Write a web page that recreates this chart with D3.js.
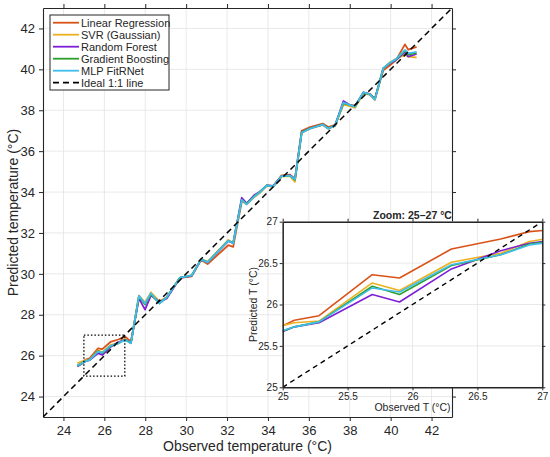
<!DOCTYPE html>
<html>
<head>
<meta charset="utf-8">
<script src="https://cdn.jsdelivr.net/npm/d3@7"></script>
<style>
  body { margin: 0; background: #fff; }
  svg text { font-family: "Liberation Sans", Arial, sans-serif; fill: #262626; }
</style>
</head>
<body>
<div class="vis-pred"></div>
<script>
// observed temperature (x) and each model's prediction (y)
const observed = [24.68, 25.09, 25.28, 25.69, 25.9, 26.3, 26.68, 26.9, 27.05, 27.3, 27.69, 27.99,
  28.28, 28.69, 29.05, 29.7, 30.27, 30.73, 31.05, 32.06, 32.3, 32.72, 32.96, 33.33, 33.6, 33.94,
  34.26, 34.67, 35.08, 35.32, 35.65, 36.06, 36.68, 36.95, 37.28, 37.69, 38.01, 38.26, 38.67,
  38.99, 39.23, 39.64, 39.97, 40.26, 40.7, 40.86, 41.27];
const linReg = [25.5, 25.81, 25.865, 26.36, 26.32, 26.67, 26.79, 26.88, 26.9, 26.68, 28.85, 28.55,
  29.05, 28.62, 28.85, 29.8, 29.88, 30.68, 30.48, 31.4, 31.32, 33.55, 33.42, 33.78, 33.98, 34.32,
  34.3, 34.82, 34.85, 34.65, 37.0, 37.18, 37.35, 37.18, 37.28, 38.3, 38.25, 38.22, 38.85,
  38.8, 38.55, 39.95, 40.2, 40.45, 41.22, 40.96, 41.1];
const svr = [25.63, 25.78, 25.8, 26.26, 26.17, 26.51, 26.62, 26.76, 26.8, 26.62, 28.95, 28.6,
  29.1, 28.65, 28.85, 29.82, 29.92, 30.72, 30.58, 31.66, 31.52, 33.6, 33.4, 33.75, 33.95, 34.3,
  34.25, 34.75, 34.78, 34.5, 36.9, 37.1, 37.28, 37.1, 37.22, 38.28, 38.2, 38.12, 38.82,
  38.75, 38.5, 40.05, 40.35, 40.52, 40.7, 40.62, 40.58];
const randForest = [25.47, 25.73, 25.78, 26.12, 26.03, 26.43, 26.65, 26.74, 26.77, 26.63, 28.8, 28.25,
  28.95, 28.62, 28.8, 29.8, 29.9, 30.7, 30.56, 31.6, 31.5, 33.72, 33.45, 33.85, 34.02, 34.32,
  34.3, 34.78, 34.82, 34.62, 36.92, 37.12, 37.3, 37.12, 37.25, 38.45, 38.25, 38.2, 38.88,
  38.78, 38.55, 40.05, 40.3, 40.45, 40.85, 40.62, 40.75];
const gradBoost = [25.5, 25.73, 25.79, 26.22, 26.12, 26.47, 26.6, 26.73, 26.76, 26.62, 28.9, 28.5,
  29.0, 28.55, 28.85, 29.82, 29.92, 30.72, 30.58, 31.62, 31.52, 33.62, 33.42, 33.8, 34.0, 34.32,
  34.28, 34.78, 34.8, 34.6, 36.92, 37.12, 37.3, 37.12, 37.25, 38.35, 38.25, 38.18, 38.85,
  38.78, 38.55, 40.05, 40.32, 40.48, 40.9, 40.72, 40.8];
const mlp = [25.52, 25.73, 25.79, 26.2, 26.15, 26.48, 26.6, 26.72, 26.75, 26.6, 28.92, 28.55,
  29.05, 28.55, 28.85, 29.82, 29.92, 30.7, 30.56, 31.62, 31.5, 33.62, 33.4, 33.78, 33.98, 34.32,
  34.28, 34.78, 34.8, 34.62, 36.9, 37.1, 37.3, 37.1, 37.25, 38.38, 38.25, 38.18, 38.88,
  38.78, 38.52, 40.05, 40.32, 40.5, 40.95, 40.78, 40.85];

const seriesNames = ["Linear Regression", "SVR (Gaussian)", "Random Forest", "Gradient Boosting", "MLP FitRNet"];
const seriesValues = [linReg, svr, randForest, gradBoost, mlp];
const seriesColors = ["#d95319", "#edb120", "#7e1fd8", "#2ca02c", "#3fbdec"];

const mainTicks = [24, 26, 28, 30, 32, 34, 36, 38, 40, 42];
const zoomTicks = [25, 25.5, 26, 26.5, 27];
const zoomRange = [25, 27];

const series = seriesNames.map((name, i) => ({
  name: name,
  color: seriesColors[i],
  points: observed.map((o, j) => ({ x: o, y: seriesValues[i][j] })),
}));

const svg = d3.select(".vis-pred").append("svg")
  .attr("width", 550).attr("height", 457);

// ---------- main axes ----------
const margin = { top: 8, left: 43 };
const width = 409, height = 409;
const g = svg.append("g").attr("transform", "translate(" + margin.left + "," + margin.top + ")");

const x = d3.scaleLinear().domain([23, 43]).range([0, width]);
const y = d3.scaleLinear().domain([23, 43]).range([height, 0]);

// grid
g.append("g").selectAll("line").data(mainTicks).join("line")
  .attr("x1", (d) => x(d)).attr("x2", (d) => x(d))
  .attr("y1", 0).attr("y2", height)
  .attr("stroke", "#e3e3e3").attr("stroke-width", 0.8);
g.append("g").selectAll("line").data(mainTicks).join("line")
  .attr("y1", (d) => y(d)).attr("y2", (d) => y(d))
  .attr("x1", 0).attr("x2", width)
  .attr("stroke", "#e3e3e3").attr("stroke-width", 0.8);

function styleAxis(sel, fs) {
  sel.select(".domain").attr("stroke", "#262626").attr("stroke-width", 1.1);
  sel.selectAll(".tick line").attr("stroke", "#262626");
  sel.selectAll(".tick text").style("font-size", fs + "px").attr("fill", "#262626");
}

g.append("g").attr("transform", "translate(0," + height + ")")
  .call(d3.axisBottom(x).tickValues(mainTicks).tickSize(4).tickPadding(5).tickSizeOuter(0))
  .call(styleAxis, 13);
g.append("g")
  .call(d3.axisLeft(y).tickValues(mainTicks).tickSize(4).tickPadding(4).tickSizeOuter(0))
  .call(styleAxis, 13);
g.append("g")
  .call(d3.axisTop(x).tickValues(mainTicks).tickSize(4).tickFormat("").tickSizeOuter(0))
  .call(styleAxis, 13);
g.append("g").attr("transform", "translate(" + width + ",0)")
  .call(d3.axisRight(y).tickValues(mainTicks).tickSize(4).tickFormat("").tickSizeOuter(0))
  .call(styleAxis, 13);

g.append("defs").append("clipPath").attr("id", "clipMain")
  .append("rect").attr("width", width).attr("height", height);

const line = d3.line().x((d) => x(d.x)).y((d) => y(d.y));
const plot = g.append("g").attr("clip-path", "url(#clipMain)");

plot.selectAll(".model").data(series).join("path")
  .attr("class", "model")
  .attr("d", (d) => line(d.points))
  .attr("fill", "none")
  .attr("stroke", (d) => d.color)
  .attr("stroke-width", 1.8)
  .attr("stroke-linejoin", "round");

plot.append("line")
  .attr("x1", x(23)).attr("y1", y(23)).attr("x2", x(43)).attr("y2", y(43))
  .attr("stroke", "#000").attr("stroke-width", 1.5).attr("stroke-dasharray", "6,4");

// dotted zoom box
plot.append("rect")
  .attr("x", x(zoomRange[0])).attr("y", y(zoomRange[1]))
  .attr("width", x(zoomRange[1]) - x(zoomRange[0]))
  .attr("height", y(zoomRange[0]) - y(zoomRange[1]))
  .attr("fill", "none").attr("stroke", "#000").attr("stroke-width", 1.3)
  .attr("stroke-dasharray", "1.5,2");

// labels
svg.append("text").attr("x", margin.left + width / 2).attr("y", 451)
  .attr("text-anchor", "middle").style("font-size", "14px")
  .text("Observed temperature (°C)");
svg.append("text")
  .attr("transform", "translate(18," + (margin.top + height / 2) + ") rotate(-90)")
  .attr("text-anchor", "middle").style("font-size", "14px")
  .text("Predicted temperature (°C)");

// legend
const legend = svg.append("g").attr("transform", "translate(50,15)");
legend.append("rect").attr("width", 119).attr("height", 75)
  .attr("fill", "#fff").attr("stroke", "#262626").attr("stroke-width", 1);
const legendItems = series.map((d) => ({ name: d.name, color: d.color, dash: null }))
  .concat([{ name: "Ideal 1:1 line", color: "#000", dash: "6,4" }]);
const li = legend.selectAll(".li").data(legendItems).join("g")
  .attr("transform", (d, i) => "translate(0," + (7.7 + i * 12) + ")");
li.append("line").attr("x1", 3).attr("x2", 29)
  .attr("stroke", (d) => d.color).attr("stroke-width", 1.8)
  .attr("stroke-dasharray", (d) => d.dash);
li.append("text").attr("x", 31).attr("y", 4).style("font-size", "11px").text((d) => d.name);

// ---------- inset ----------
const inset = { left: 282.7, top: 221.7, width: 259.6, height: 165.6 };
const ig = svg.append("g").attr("transform", "translate(" + inset.left + "," + inset.top + ")");
const xi = d3.scaleLinear().domain(zoomRange).range([0, inset.width]);
const yi = d3.scaleLinear().domain(zoomRange).range([inset.height, 0]);

ig.append("rect").attr("width", inset.width).attr("height", inset.height).attr("fill", "#fff");
ig.append("g").selectAll("line").data(zoomTicks).join("line")
  .attr("x1", (d) => xi(d)).attr("x2", (d) => xi(d))
  .attr("y1", 0).attr("y2", inset.height)
  .attr("stroke", "#e3e3e3").attr("stroke-width", 0.8);
ig.append("g").selectAll("line").data(zoomTicks).join("line")
  .attr("y1", (d) => yi(d)).attr("y2", (d) => yi(d))
  .attr("x1", 0).attr("x2", inset.width)
  .attr("stroke", "#e3e3e3").attr("stroke-width", 0.8);

ig.append("defs").append("clipPath").attr("id", "clipInset")
  .append("rect").attr("width", inset.width).attr("height", inset.height);
const iplot = ig.append("g").attr("clip-path", "url(#clipInset)");
const iline = d3.line().x((d) => xi(d.x)).y((d) => yi(d.y));
iplot.selectAll(".model").data(series).join("path")
  .attr("d", (d) => iline(d.points))
  .attr("fill", "none")
  .attr("stroke", (d) => d.color)
  .attr("stroke-width", 1.6)
  .attr("stroke-linejoin", "round");
iplot.append("line")
  .attr("x1", xi(25)).attr("y1", yi(25)).attr("x2", xi(27)).attr("y2", yi(27))
  .attr("stroke", "#000").attr("stroke-width", 1.4).attr("stroke-dasharray", "5,4");

const fmt = d3.format("~g");
ig.append("g").attr("transform", "translate(0," + inset.height + ")")
  .call(d3.axisBottom(xi).tickValues(zoomTicks).tickFormat(fmt).tickSize(3).tickPadding(3).tickSizeOuter(0))
  .call(styleAxis, 10);
ig.append("g")
  .call(d3.axisLeft(yi).tickValues(zoomTicks).tickFormat(fmt).tickSize(3).tickPadding(2).tickSizeOuter(0))
  .call(styleAxis, 10);
ig.append("g")
  .call(d3.axisTop(xi).tickValues(zoomTicks).tickSize(3).tickFormat("").tickSizeOuter(0))
  .call(styleAxis, 10);
ig.append("g").attr("transform", "translate(" + inset.width + ",0)")
  .call(d3.axisRight(yi).tickValues(zoomTicks).tickSize(3).tickFormat("").tickSizeOuter(0))
  .call(styleAxis, 10);
ig.selectAll(".domain").attr("stroke-width", 1.5);

ig.append("text").attr("x", inset.width / 2).attr("y", -3)
  .attr("text-anchor", "middle").style("font-size", "10.5px").style("font-weight", "bold")
  .text("Zoom: 25–27 °C");
ig.append("text").attr("x", inset.width / 2).attr("y", inset.height + 24)
  .attr("text-anchor", "middle").style("font-size", "10.5px")
  .text("Observed T (°C)");
ig.append("text")
  .attr("transform", "translate(-26," + inset.height / 2 + ") rotate(-90)")
  .attr("text-anchor", "middle").style("font-size", "10.5px")
  .text("Predicted T (°C)");
</script>
</body>
</html>
